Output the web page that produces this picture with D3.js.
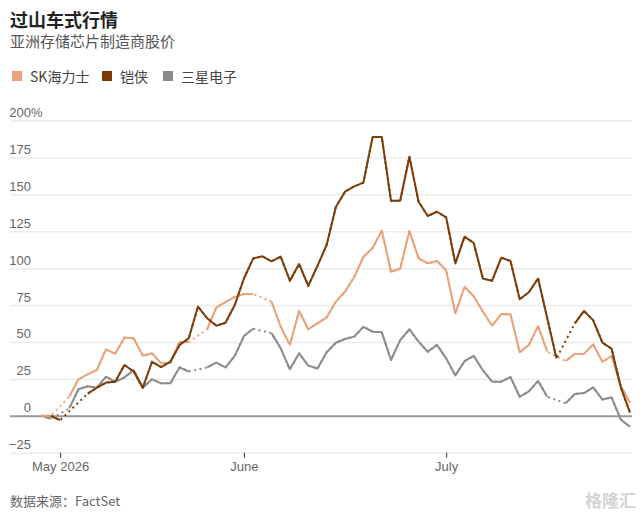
<!DOCTYPE html>
<html>

<head>
    <meta charset="utf-8">
    <title>过山车式行情</title>
    <style>
        body {
            margin: 0;
            background: #fff;
        }

        svg {
            display: block;
            font-family: 'Noto Sans CJK SC', 'Noto Sans', sans-serif;
        }

        .title {
            font-size: 18px;
            font-weight: 700;
            fill: #222;
        }

        .subtitle {
            font-size: 15px;
            fill: #555;
        }

        .legend-label {
            font-size: 14px;
            fill: #444;
        }

        .y .tick line {
            stroke: #ececec;
            stroke-width: 1.5;
        }

        .y .tick text,
        .x .tick text {
            font-size: 13px;
            fill: #666;
        }

        .x .tick line {
            stroke: #333;
        }

        .source {
            font-size: 13px;
            fill: #666;
        }

        .line {
            fill: none;
            stroke-width: 2;
            stroke-linejoin: round;
        }
    </style>
</head>

<body>
    <svg width="643" height="517"></svg>

    <script src="https://d3js.org/d3.v7.min.js"></script>
    <script>

        // trading days (union of Seoul and Tokyo sessions)
        let dates = [
            '2026-04-29', '2026-04-30',
            '2026-05-01', '2026-05-04', '2026-05-06', '2026-05-07', '2026-05-08',
            '2026-05-11', '2026-05-12', '2026-05-13', '2026-05-14', '2026-05-15',
            '2026-05-18', '2026-05-19', '2026-05-20', '2026-05-21', '2026-05-22',
            '2026-05-25', '2026-05-26', '2026-05-27', '2026-05-28', '2026-05-29',
            '2026-06-01', '2026-06-02', '2026-06-03', '2026-06-04', '2026-06-05',
            '2026-06-08', '2026-06-09', '2026-06-10', '2026-06-11', '2026-06-12',
            '2026-06-15', '2026-06-16', '2026-06-17', '2026-06-18', '2026-06-19',
            '2026-06-22', '2026-06-23', '2026-06-24', '2026-06-25', '2026-06-26',
            '2026-06-29', '2026-06-30',
            '2026-07-01', '2026-07-02', '2026-07-03',
            '2026-07-06', '2026-07-07', '2026-07-08', '2026-07-09', '2026-07-10',
            '2026-07-13', '2026-07-14', '2026-07-15', '2026-07-16', '2026-07-17',
            '2026-07-20', '2026-07-21', '2026-07-22', '2026-07-23', '2026-07-24',
            '2026-07-27', '2026-07-28', '2026-07-29'
        ];

        // % change, null = market closed that day
        let skHynix = [
            0, 0, null, 13, 24.7, 28, 31, 45, 42, 53,
            52.5, 40.7, 42.3, 35.5, 36, 50, 50, null, 58.6, 73.5,
            77, 80.5, 82.5, 82.5, null, 77.3, 60.3, 48, 71, 58.6,
            62.6, 66.7, 77.3, 84, 94, 107.7, 113.6, 125.4, 97.6, 99.6,
            125.2, 106.7, 103.3, 104.8, 98.4, 69.4, 87.4, 81, 70.5, 61,
            68.9, 68.7, 43, 48, 60.8, 43.4, null, 37, 41.9, 41.9,
            48.4, 36.6, 40.5, 20.2, 8.9
        ];

        let kioxia = [
            null, 0, -3, null, null, 15, 19, 22.5, 23, 34.4,
            30, 19, 36.6, 33, 36.6, 48, 52.5, 74, 66, 61,
            63, 75, 93, 106.5, 108, 104.6, 107.8, 91.5, 102.8, 88,
            101.5, 115.7, 141.4, 151.8, 155.4, 157.9, 188.8, 188.8, 145.7, 145.7,
            175.5, 145, 135.3, 138.2, 134.4, 103.2, 121.3, 117, 92.9, 91.5,
            107.1, 104.8, 78.9, 83.7, 93, 66, 38.9, null, 62.6, 71,
            64.6, 49.5, 45.4, 19.3, 2.2
        ];

        let samsung = [
            0, -2, null, 5, 18, 20, 19, 26.5, 23, 26,
            31, 19, 24.7, 22, 22, 32.8, 30, null, 32.8, 36,
            32.8, 40.5, 54, 59, null, 56, 45.7, 31.5, 42.3, 34,
            32, 43, 49.5, 52, 53.6, 60.3, 57, 56.5, 37.8, 51.3,
            58.6, 50.2, 43.4, 48, 38.9, 27.3, 37, 40.6, 30.7, 23.1,
            23.1, 26.2, 12.9, 16.5, 23.6, 12.9, null, 8.5, 14.8, 15.4,
            19.3, 11, 12.5, -2.6, -7.4
        ];

        let seriesNames = ['SK海力士', '铠侠', '三星电子'];
        let seriesValues = [skHynix, kioxia, samsung];
        let seriesColors = ['#e9a27a', '#7d3d08', '#8c8c8c'];

        let yTicks = [-25, 0, 25, 50, 75, 100, 125, 150, 175, 200];
        let xTickDates = ['2026-05-01', '2026-06-01', '2026-07-01'];
        let xTickLabels = ['May 2026', 'June', 'July'];

        let svg = d3.select('svg');

        let x = d3.scalePoint()
            .domain(dates)
            .range([41.7, 630]);

        let y = d3.scaleLinear()
            .domain([-25, 200])
            .range([452.7, 120.5]);

        // titles
        svg.append('text')
            .attr('class', 'title')
            .attr('x', 10)
            .attr('y', 27)
            .text('过山车式行情');

        svg.append('text')
            .attr('class', 'subtitle')
            .attr('x', 10)
            .attr('y', 47)
            .text('亚洲存储芯片制造商股价');

        // legend
        let legendX = [12, 102, 163];
        let legend = svg.append('g')
            .selectAll('g')
            .data(seriesNames)
            .join('g')
            .attr('transform', (d, i) => `translate(${legendX[i]},71)`);

        legend.append('rect')
            .attr('width', 10)
            .attr('height', 10)
            .attr('fill', (d, i) => seriesColors[i]);

        legend.append('text')
            .attr('class', 'legend-label')
            .attr('x', 18)
            .attr('y', 10.5)
            .text(d => d);

        // y axis with gridlines
        let yAxis = svg.append('g')
            .attr('class', 'y axis')
            .attr('transform', 'translate(10,0)')
            .call(d3.axisRight(y).tickValues(yTicks).tickSize(622).tickFormat(d3.format('d')))
            .call(g => g.select('.domain').remove());

        yAxis.selectAll('.tick text')
            .attr('x', 21)
            .attr('y', -4)
            .attr('dy', 0)
            .style('text-anchor', 'end');

        yAxis.selectAll('.tick')
            .filter(d => d === 200)
            .append('text')
            .attr('x', 21)
            .attr('y', -4)
            .attr('fill', '#666')
            .style('font-size', '13px')
            .text('%');

        yAxis.selectAll('.tick')
            .filter(d => d === 0)
            .select('line')
            .style('stroke', '#999')
            .style('stroke-width', 2);

        // x axis
        svg.append('g')
            .attr('class', 'x axis')
            .attr('transform', `translate(0,${y(-25)})`)
            .call(d3.axisBottom(x).tickValues(xTickDates).tickSize(5).tickPadding(4)
                .tickFormat((d, i) => xTickLabels[i]))
            .call(g => g.select('.domain').remove());

        // lines: dotted across closed days, solid where traded
        let solid = d3.line()
            .defined(d => d.v !== null)
            .x(d => x(d.date))
            .y(d => y(d.v));

        let drawOrder = [2, 0, 1];
        drawOrder.forEach(k => {
            let pts = dates.map((date, i) => ({ date: date, v: seriesValues[k][i] }));

            svg.append('path')
                .attr('class', 'line')
                .attr('d', solid(pts.filter(d => d.v !== null)))
                .attr('stroke', seriesColors[k])
                .attr('stroke-dasharray', '2,3.5');

            svg.append('path')
                .attr('class', 'line')
                .attr('d', solid(pts))
                .attr('stroke', seriesColors[k]);
        });

        // source
        svg.append('text')
            .attr('class', 'source')
            .attr('x', 10)
            .attr('y', 506)
            .text('数据来源：FactSet');

        svg.append('text')
            .attr('x', 636)
            .attr('y', 507)
            .attr('text-anchor', 'end')
            .attr('fill', '#d4d4d4')
            .style('font-size', '17px')
            .style('font-weight', 700)
            .text('格隆汇');

    </script>
</body>

</html>
